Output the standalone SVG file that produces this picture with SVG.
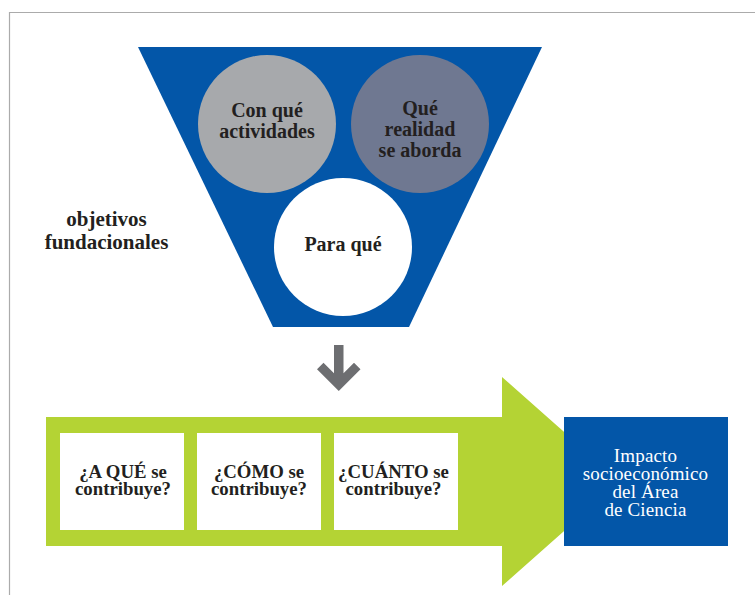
<svg xmlns="http://www.w3.org/2000/svg" width="755" height="595" viewBox="0 0 755 595">
<style>
.b{font-family:"Liberation Serif","Times New Roman",serif;font-weight:bold;fill:#231F20;text-anchor:middle}
.c{font-size:20px}
.o{font-size:21px}
.q{font-size:18.8px}
.w{font-family:"Liberation Serif","Times New Roman",serif;fill:#FFFFFF;font-size:19px;letter-spacing:0.15px;text-anchor:middle}
</style>
<rect width="755" height="595" fill="#FFFFFF"/>
<path d="M9.5,595 V12.5 H755" fill="none" stroke="#ABABAB" stroke-width="1.2"/>
<g id="funnel">
<polygon points="138,47 542,47 409,327 273,327" fill="#0356A8"/>
</g>
<g id="con-que">
<circle cx="267" cy="124" r="69" fill="#A7A9AC"/>
<text class="b c" x="267" y="116.5">Con qué</text>
<text class="b c" x="267" y="137.5">actividades</text>
</g>
<g id="que-realidad">
<circle cx="420" cy="124" r="69" fill="#6F7891"/>
<text class="b c" x="420" y="115">Qué</text>
<text class="b c" x="420" y="136">realidad</text>
<text class="b c" x="420" y="157">se aborda</text>
</g>
<g id="para-que">
<circle cx="343" cy="247" r="69" fill="#FFFFFF"/>
<text class="b c" x="343" y="251">Para qué</text>
</g>
<g id="objetivos">
<text class="b o" x="106.5" y="225.5">objetivos</text>
<text class="b o" x="106.5" y="249">fundacionales</text>
</g>
<g id="connectors">
<polygon points="334,345 343.5,345 343.5,373.25 354,362.75 360.5,369.25 338.75,391 317,369.25 323.5,362.75 334,373.25" fill="#6D6E71"/>
</g>
<g id="green-arrow">
<polygon points="46,417 502,417 502,377 620,481.5 502,586 502,546 46,546" fill="#B4D334"/>
</g>
<g id="a-que">
<rect x="60" y="433" width="124" height="97" fill="#FFFFFF"/>
<text class="b q" x="123" y="478">¿A QUÉ se</text>
<text class="b q" x="123" y="495">contribuye?</text>
</g>
<g id="como">
<rect x="197" y="433" width="124" height="97" fill="#FFFFFF"/>
<text class="b q" x="259" y="478">¿CÓMO se</text>
<text class="b q" x="259" y="495">contribuye?</text>
</g>
<g id="cuanto">
<rect x="334" y="433" width="124" height="97" fill="#FFFFFF"/>
<text class="b q" x="393.5" y="478">¿CUÁNTO se</text>
<text class="b q" x="393.5" y="495">contribuye?</text>
</g>
<g id="impacto">
<rect x="564" y="417" width="164" height="129" fill="#0356A8"/>
<text class="w" x="645.5" y="462">Impacto</text>
<text class="w" x="645.5" y="480">socioeconómico</text>
<text class="w" x="645.5" y="498">del Área</text>
<text class="w" x="645.5" y="516">de Ciencia</text>
</g>
</svg>
